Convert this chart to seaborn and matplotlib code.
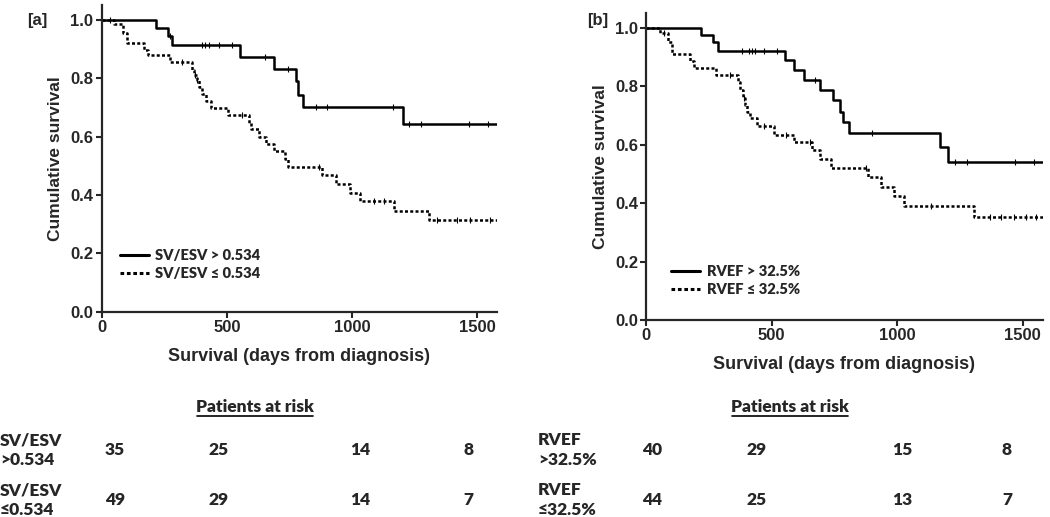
import numpy as np
import pandas as pd
import seaborn as sns
import matplotlib.pyplot as plt

# Kaplan-Meier step data (time in days, survival after step)
a_hi_t = [0, 217, 263, 280, 551, 687, 776, 784, 803, 1203, 1580]
a_hi_s = [1.0, 0.971, 0.943, 0.914, 0.872, 0.831, 0.789, 0.743, 0.700, 0.642, 0.642]
a_hi_cens = [271, 400, 413, 429, 467, 520, 653, 744, 857, 900, 1163, 1229, 1276, 1469, 1543]

a_lo_t = [0, 49, 84, 100, 167, 184, 273, 360, 369, 380, 387, 400, 417, 436, 503, 588, 596,
          627, 656, 689, 731, 743, 880, 937, 993, 1031, 1167, 1307, 1580]
a_lo_s = [1.0, 0.986, 0.954, 0.920, 0.897, 0.879, 0.857, 0.829, 0.811, 0.794, 0.771, 0.745,
          0.723, 0.697, 0.674, 0.648, 0.626, 0.600, 0.574, 0.549, 0.522, 0.497, 0.469, 0.438,
          0.408, 0.379, 0.346, 0.314, 0.314]
a_lo_cens = [33, 320, 372, 380, 560, 867, 1087, 1127, 1340, 1420, 1473, 1553]

b_hi_t = [0, 219, 266, 286, 552, 588, 630, 691, 743, 774, 783, 809, 1170, 1201, 1580]
b_hi_s = [1.0, 0.976, 0.951, 0.923, 0.890, 0.857, 0.823, 0.789, 0.754, 0.712, 0.678, 0.640,
          0.591, 0.541, 0.541]
b_hi_cens = [382, 408, 421, 435, 468, 521, 674, 900, 1229, 1279, 1468, 1545]

b_lo_t = [0, 56, 85, 102, 173, 191, 279, 366, 375, 384, 395, 402, 415, 441, 508, 590, 661,
          694, 738, 884, 934, 989, 1029, 1306, 1580]
b_lo_s = [1.0, 0.983, 0.952, 0.911, 0.888, 0.863, 0.838, 0.814, 0.789, 0.760, 0.737, 0.714,
          0.691, 0.665, 0.634, 0.608, 0.583, 0.552, 0.522, 0.491, 0.457, 0.425, 0.392, 0.352,
          0.352]
b_lo_cens = [69, 335, 388, 468, 555, 654, 874, 1133, 1372, 1415, 1465, 1512, 1552]

# patients at risk table
a_rows = ['SV/ESV\n>0.534', 'SV/ESV\n\u22640.534']
a_risk = [[35, 25, 14, 8], [49, 29, 14, 7]]
b_rows = ['RVEF\n>32.5%', 'RVEF\n\u226432.5%']
b_risk = [[40, 29, 15, 8], [44, 25, 13, 7]]

a_labels = ['SV/ESV > 0.534', 'SV/ESV \u2264 0.534']
b_labels = ['RVEF > 32.5%', 'RVEF \u2264 32.5%']

sns.set_style('ticks')
plt.rcParams['font.family'] = ['Liberation Sans', 'DejaVu Sans']
plt.rcParams['axes.linewidth'] = 1.6

fig = plt.figure(figsize=(10.5, 5.17), dpi=100)
ax_a = fig.add_axes([0.0969, 0.397, 0.3766, 0.593])
ax_b = fig.add_axes([0.6155, 0.381, 0.3775, 0.593])

DOT = (0, (1.2, 0.9))
CALIBRI = dict(family='Lato', weight='heavy', size=12.5)


def surv_at(t, s, x):
    idx = np.searchsorted(t, x, side='right') - 1
    return np.array(s)[idx]


def km_panel(ax, curves, labels, leg_xy):
    for (t, s, cens), ls, lab in zip(curves, ['-', DOT], labels):
        df = pd.DataFrame({'time': t, 'surv': s})
        sns.lineplot(data=df, x='time', y='surv', ax=ax, drawstyle='steps-post',
                     color='black', lw=1.8, linestyle=ls, label=lab, sort=False)
        ax.plot(cens, surv_at(t, s, cens), '|', color='black', ms=5, mew=0.8)
    ax.set_xlim(0, 1580)
    ax.set_ylim(0, 1.05)
    ax.set_xticks([0, 500, 1000, 1500])
    ax.set_yticks([0, 0.2, 0.4, 0.6, 0.8, 1.0])
    ax.set_yticklabels(['0.0', '0.2', '0.4', '0.6', '0.8', '1.0'])
    ax.tick_params(direction='out', length=4, width=1.5, labelsize=12, pad=2)
    for lbl in ax.get_xticklabels() + ax.get_yticklabels():
        lbl.set_fontweight('bold')
    sns.despine(ax=ax)
    ax.set_xlabel('Survival (days from diagnosis)', fontsize=13, fontweight='bold', labelpad=9)
    ax.set_ylabel('Cumulative survival', fontsize=12.5, fontweight='bold', labelpad=5)
    leg = ax.legend(loc='lower left', bbox_to_anchor=leg_xy, frameon=False,
                    handlelength=2.0, handletextpad=0.45, labelspacing=0.35,
                    prop={'family': 'Lato', 'weight': 'heavy', 'size': 10.5})
    for h in leg.get_lines():
        h.set_linewidth(2.2)


km_panel(ax_a, [(a_hi_t, a_hi_s, a_hi_cens), (a_lo_t, a_lo_s, a_lo_cens)], a_labels,
         (0.012, 0.06))
km_panel(ax_b, [(b_hi_t, b_hi_s, b_hi_cens), (b_lo_t, b_lo_s, b_lo_cens)], b_labels,
         (0.029, 0.035))

fig.text(27 / 1050, 1 - 21 / 517, '[a]', fontsize=12, fontweight='bold', va='center')
fig.text(587 / 1050, 1 - 20 / 517, '[b]', fontsize=12, fontweight='bold', va='center')


def risk_table(title_x, label_x, num_x, rows, risk):
    fig.text(title_x / 1050, 1 - 407 / 517, 'Patients at risk', ha='center', va='center',
             fontdict=CALIBRI)
    # underline of the title
    fig.add_artist(plt.Line2D([(title_x - 58) / 1050, (title_x + 58) / 1050],
                              [1 - 416 / 517, 1 - 416 / 517], color='black', lw=1.2))
    for r, (lab, vals) in enumerate(zip(rows, risk)):
        y = 1 - (450 + 50 * r) / 517
        fig.text(label_x / 1050, y, lab, ha='left', va='center', fontdict=CALIBRI,
                 linespacing=1.25)
        for xv, v in zip(num_x, vals):
            fig.text(xv / 1050, y, str(v), ha='center', va='center', fontdict=CALIBRI)


risk_table(255, 0, [115, 219, 360, 468], a_rows, a_risk)
risk_table(790, 538, [652, 757, 902, 1007], b_rows, b_risk)

fig.savefig('out.png', dpi=100)
